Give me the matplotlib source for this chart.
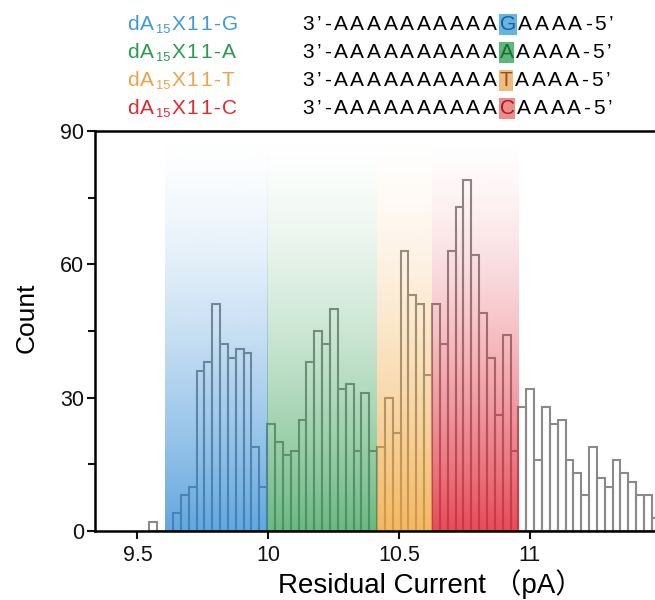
import numpy as np
import matplotlib
matplotlib.use('Agg')
import matplotlib.pyplot as plt
from matplotlib.colors import to_rgb

plt.rcParams['font.family'] = ['Liberation Sans', 'Noto Sans CJK SC']

# histogram data (bin width 0.03 pA)
bin_start = 9.546
bin_width = 0.03
counts = [2, 0, 0,
          4, 8, 10, 36, 38, 51, 42, 39, 41, 40, 19, 10,
          24, 20, 17, 18, 25, 38, 45, 42, 50, 32, 33, 18, 31, 18,
          19, 30, 22, 63, 53, 51, 35,
          51, 42, 63, 73, 79, 62, 49, 39, 26, 44, 18,
          28, 32, 16, 28, 24, 25, 16, 13, 8, 19, 12, 10, 16, 13, 11, 8, 8, 3]

# coloured regions
band_edges = [9.606, 9.996, 10.416, 10.626, 10.956]
band_colors = ['#2080d0', '#2e9a4e', '#f0a030', '#e02030']
band_alpha = [0.7, 0.7, 0.75, 0.8]

labels = ['G', 'A', 'T', 'C']
label_colors = ['#3d9ad6', '#2a9a4c', '#eea24a', '#e02a2e']
box_colors = ['#66b3e6', '#5ab878', '#f2bb7e', '#f08c8c']
letter_colors = ['#1c5f91', '#1d6b35', '#8a5520', '#9a2020']

fig = plt.figure(figsize=(6.55, 6.0), dpi=100)
ax = fig.add_axes([95 / 655, 69 / 600, 560 / 655, 400 / 600])

edges = bin_start + bin_width * np.arange(len(counts))
ax.bar(edges, counts, width=bin_width, align='edge', fill=False,
       edgecolor='#8a8a8a', linewidth=1.5, zorder=1)

# vertical gradient bands on top of the bars
yy = np.linspace(0, 1, 256)
for i, c in enumerate(band_colors):
    grad = np.zeros((256, 1, 4))
    grad[:, 0, :3] = to_rgb(c)
    grad[:, 0, 3] = band_alpha[i] * (1 - yy) ** 1.5
    ax.imshow(grad, extent=[band_edges[i], band_edges[i + 1], 0, 90],
              origin='lower', aspect='auto', interpolation='bilinear', zorder=2)

ax.set_xlim(9.338, 11.478)
ax.set_ylim(0, 90)
ax.set_xticks([9.5, 10, 10.5, 11])
ax.set_xticklabels(['9.5', '10', '10.5', '11'])
ax.set_yticks([0, 30, 60, 90])
ax.set_yticks([15, 45, 75], minor=True)
ax.tick_params(axis='both', which='both', direction='out', width=1.5,
               labelsize=15.5, colors='#111111')
ax.tick_params(axis='both', which='major', length=6)
ax.tick_params(axis='y', which='minor', length=5)
ax.tick_params(axis='x', pad=4)
ax.tick_params(axis='y', pad=2)
ax.spines['right'].set_visible(False)
for s in ['left', 'bottom', 'top']:
    ax.spines[s].set_linewidth(1.8)

fig.text(27 / 655, 1 - 318 / 600, 'Count', rotation=90, ha='center',
         va='center', fontsize=19)
fig.text(430 / 655, 7 / 600, 'Residual Current （pA）', ha='center',
         va='baseline', fontsize=20)


def tracked(x, y, pieces, size, track):
    # pieces: (text, color, extra) drawn one after another with spacing
    first = ax.text(x, y, pieces[0][0], transform=fig.transFigure,
                    fontsize=size, color=pieces[0][1], ha='left',
                    va='baseline')
    prev = first
    for s, col, extra in pieces[1:]:
        kw = dict(fontsize=size, color=col, ha='left', va='bottom',
                  annotation_clip=False)
        dy = 0
        if extra == 'sub':
            kw['fontsize'] = size * 0.62
            dy = -1.2
        elif extra is not None:
            kw['bbox'] = dict(boxstyle='square,pad=0.04', fc=extra, ec='none')
        prev = ax.annotate(s, xy=(1, 0), xycoords=(prev, first),
                           xytext=(track, dy), textcoords='offset points',
                           **kw)
    return first


row_y = [1 - 30 / 600, 1 - 58 / 600, 1 - 86 / 600, 1 - 114 / 600]
for i, b in enumerate(labels):
    lc = label_colors[i]
    tracked(127 / 655, row_y[i],
            [('d', lc, None), ('A', lc, None), ('15', lc, 'sub'),
             ('X', lc, None), ('1', lc, None), ('1', lc, None),
             ('-', lc, None), (b, lc, None)], 15, 1.1)
    seq = [('3', 'black', None), ('’', 'black', None), ('-', 'black', None)]
    seq += [('A', 'black', None)] * 10
    seq += [(b, letter_colors[i], box_colors[i])]
    seq += [('A', 'black', None)] * 4
    seq += [('-', 'black', None), ('5', 'black', None), ('’', 'black', None)]
    tracked(302.5 / 655, row_y[i], seq, 15, 1.95)

fig.savefig('out.png', dpi=100)
